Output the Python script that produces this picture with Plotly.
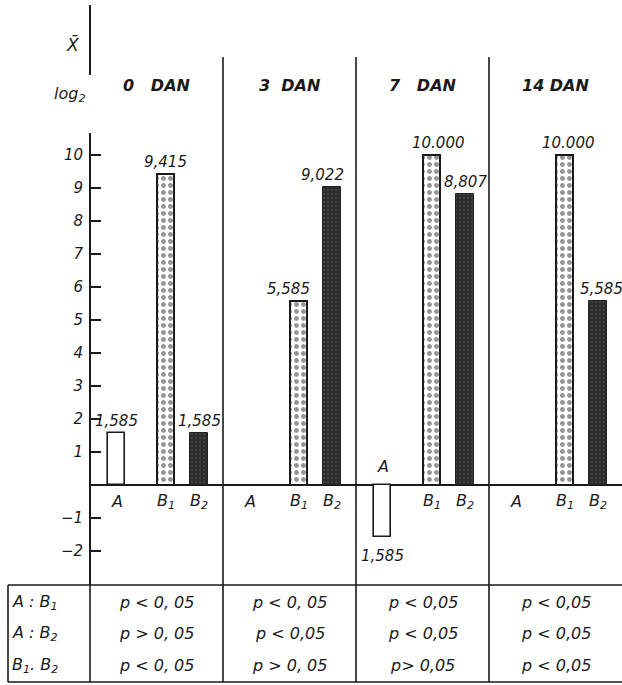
import plotly.graph_objects as go

# ---------------- data ----------------
days = ["0   DAN", "3  DAN", "7   DAN", "14 DAN"]
groups = ["A", "B1", "B2"]
group_labels = ["A", "B<sub>1</sub>", "B<sub>2</sub>"]
values_A = [1.585, None, -1.585, None]
values_B1 = [9.415, 5.585, 10.000, 10.000]
values_B2 = [1.585, 9.022, 8.807, 5.585]
labels_A = ["1,585", "", "1,585", ""]
labels_B1 = ["9,415", "5,585", "10.000", "10.000"]
labels_B2 = ["1,585", "9,022", "8,807", "5,585"]
y_ticks = [-2, -1, 1, 2, 3, 4, 5, 6, 7, 8, 9, 10]
comparisons = ["A : B<sub>1</sub>", "A : B<sub>2</sub>", "B<sub>1</sub>. B<sub>2</sub>"]
p_day0 = ["p < 0, 05", "p > 0, 05", "p < 0, 05"]
p_day3 = ["p < 0, 05", "p < 0,05", "p > 0, 05"]
p_day7 = ["p < 0,05", "p < 0,05", "p> 0,05"]
p_day14 = ["p < 0,05", "p < 0,05", "p < 0,05"]

# ---------------- layout constants ----------------
W, H = 622, 685
ML, MR, MT, MB = 90, 0, 0, 100
PX_PER_UNIT = 33.0
ZERO_PX = 485  # pixel row of zero line
plot_h = H - MT - MB
y_top = (ZERO_PX - MT) / PX_PER_UNIT
y_bot = -(H - MB - ZERO_PX) / PX_PER_UNIT
OFFSET = {"A": 0.20, "B1": 0.57, "B2": 0.82}
BAR_W = 0.13
FONT = "DejaVu Sans"
ink = "#1a1a1a"


def py(px):
    """pixel row -> paper y"""
    return (H - MB - px) / plot_h


def pxx(px):
    """pixel col -> paper x"""
    return (px - ML) / (W - ML - MR)


def dy(px):
    """pixel row -> data y"""
    return (ZERO_PX - px) / PX_PER_UNIT


n = len(days)
fig = go.Figure()

fig.add_trace(go.Bar(
    x=[i + OFFSET["A"] for i in range(n)], y=values_A, width=BAR_W,
    marker=dict(color="white", line=dict(color=ink, width=1.6)),
    name="A", showlegend=False, hoverinfo="skip"))
fig.add_trace(go.Bar(
    x=[i + OFFSET["B1"] for i in range(n)], y=values_B1, width=BAR_W,
    marker=dict(color="white", line=dict(color=ink, width=2),
                pattern=dict(shape=".", bgcolor="white", fgcolor="#2a2a2a",
                             size=7, solidity=0.4)),
    name="B1", showlegend=False, hoverinfo="skip"))
fig.add_trace(go.Bar(
    x=[i + OFFSET["B2"] for i in range(n)], y=values_B2, width=BAR_W + 0.005,
    marker=dict(color="#2e2e2e", line=dict(color="#222", width=1),
                pattern=dict(shape=".", bgcolor="#2a2a2a", fgcolor="#5a5a5a",
                             size=4, solidity=0.3)),
    name="B2", showlegend=False, hoverinfo="skip"))

tfont = dict(family=FONT, size=15, color=ink, style="italic")

ann = []
# value labels above (or below) the bar ends
label_shift = {("B1", 1): -10, ("B2", 1): -10, ("B1", 2): 7, ("B1", 3): 4, ("B2", 3): 3}
for g, vals, labs in (("A", values_A, labels_A), ("B1", values_B1, labels_B1),
                      ("B2", values_B2, labels_B2)):
    for i, (v, t) in enumerate(zip(vals, labs)):
        if v is None or not t:
            continue
        ann.append(dict(x=i + OFFSET[g], y=v, xref="x", yref="y", text=t,
                        xanchor="center", yanchor="bottom" if v > 0 else "top",
                        xshift=label_shift.get((g, i), 0), yshift=1 if v > 0 else -8,
                        showarrow=False, font=dict(tfont, size=15)))

# category labels (below the zero line; above it where the bar is negative)
for g, gl in zip(groups, group_labels):
    for i in range(n):
        neg = (g == "A" and values_A[i] is not None and values_A[i] < 0)
        ann.append(dict(x=i + OFFSET[g], y=0, xref="x", yref="y", text=gl,
                        xanchor="center", yanchor="middle", showarrow=False,
                        yshift=19 if neg else -16, font=dict(tfont, size=16)))

# day headers
for i, d in enumerate(days):
    ann.append(dict(x=i + 0.5, y=dy(85), xref="x", yref="y", text=f"<b>{d}</b>",
                    xanchor="center", yanchor="middle", showarrow=False,
                    font=dict(tfont, size=16)))

# axis title pieces
ann.append(dict(x=pxx(72), y=py(45), xref="paper", yref="paper", text="X\u0304",
                xanchor="center", yanchor="middle",
                showarrow=False, font=dict(tfont, size=17)))
ann.append(dict(x=pxx(70), y=py(95), xref="paper", yref="paper", text="log<sub>2</sub>",
                xanchor="center", yanchor="middle",
                showarrow=False, font=dict(tfont, size=16)))

# table
row_px = [603, 633, 665]
for r, comp in enumerate(comparisons):
    ann.append(dict(x=pxx(10), y=py(row_px[r]), xref="paper", yref="paper", text=comp,
                    xanchor="left", yanchor="middle", showarrow=False,
                    font=dict(tfont, size=16)))
for i, col in enumerate([p_day0, p_day3, p_day7, p_day14]):
    for r, t in enumerate(col):
        ann.append(dict(x=(i + 0.5) / n, y=py(row_px[r]), xref="paper", yref="paper",
                        text=t, xanchor="center", yanchor="middle", showarrow=False,
                        font=dict(tfont, size=16)))

shapes = []
line = dict(color=ink, width=1.6)
# y-axis line segments
shapes.append(dict(type="line", xref="paper", yref="paper", x0=0, x1=0,
                   y0=py(133), y1=py(585), line=dict(color=ink, width=2)))
shapes.append(dict(type="line", xref="paper", yref="paper", x0=0, x1=0,
                   y0=py(5), y1=py(75), line=dict(color=ink, width=2)))
# panel dividers
for i in range(1, n):
    shapes.append(dict(type="line", xref="paper", yref="paper", x0=i / n, x1=i / n,
                       y0=py(57), y1=py(682), line=line))
# table frame
shapes.append(dict(type="line", xref="paper", yref="paper", x0=pxx(8), x1=1,
                   y0=py(585), y1=py(585), line=line))
shapes.append(dict(type="line", xref="paper", yref="paper", x0=pxx(8), x1=1,
                   y0=py(682), y1=py(682), line=line))
shapes.append(dict(type="line", xref="paper", yref="paper", x0=pxx(8), x1=pxx(8),
                   y0=py(585), y1=py(682), line=line))
shapes.append(dict(type="line", xref="paper", yref="paper", x0=0, x1=0,
                   y0=py(585), y1=py(682), line=line))

fig.update_layout(
    width=W, height=H, margin=dict(l=ML, r=MR, t=MT, b=MB, autoexpand=False),
    paper_bgcolor="white", plot_bgcolor="white",
    font=dict(family=FONT, size=15, color=ink, style="italic"),
    barmode="overlay", bargap=0,
    xaxis=dict(range=[0, n], visible=False, fixedrange=True),
    yaxis=dict(range=[y_bot, y_top], tickvals=y_ticks, ticks="inside", ticklen=11,
               tickwidth=1.6, tickcolor=ink, showgrid=False, showline=False,
               zeroline=True, zerolinecolor=ink, zerolinewidth=1.8,
               ticklabelstandoff=6, automargin=False, fixedrange=True,
               tickfont=dict(family=FONT, size=15, color=ink, style="italic")),
    annotations=ann, shapes=shapes, showlegend=False,
)

fig.write_html("out.html", config={"displayModeBar": False},
               post_script="document.body.style.margin='0';document.body.style.overflow='hidden';")
